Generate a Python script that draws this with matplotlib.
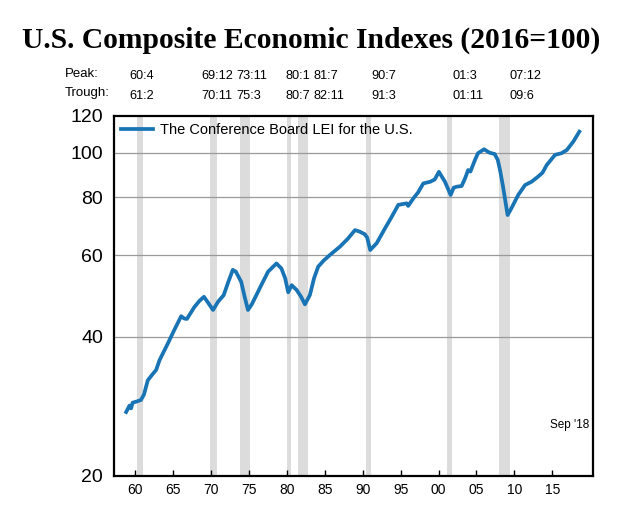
import matplotlib
matplotlib.use("Agg")
import matplotlib.pyplot as plt
from matplotlib import font_manager
from matplotlib.ticker import FixedLocator, FixedFormatter, NullLocator

# ---------------- data ----------------
years = [1958.85, 1959.3, 1959.5, 1959.7, 1960.3, 1960.8, 1961.2, 1961.7, 1962.4, 1962.8,
         1963.25, 1964.35, 1965.2, 1966.1, 1966.5, 1966.85, 1967.85, 1968.5, 1969.1, 1969.6,
         1970.3, 1970.95, 1971.7, 1972.3, 1972.9, 1973.3, 1974.0, 1974.5, 1974.9, 1975.4,
         1976.0, 1976.8, 1977.55, 1978.65, 1979.3, 1979.8, 1980.2, 1980.65, 1981.3, 1981.9,
         1982.4, 1983.05, 1983.6, 1984.15, 1984.9, 1985.7, 1987.0, 1988.0, 1989.0, 1989.6,
         1990.3, 1990.6, 1991.0, 1991.85, 1992.95, 1993.8, 1994.7, 1995.8, 1996.0, 1996.7,
         1997.3, 1998.0, 1998.9, 1999.5, 2000.05, 2000.85, 2001.6, 2002.0, 2002.4, 2003.05,
         2003.5, 2003.9, 2004.2, 2004.8, 2005.2, 2006.0, 2006.7, 2007.4, 2007.8, 2008.1,
         2008.5, 2009.1, 2009.6, 2010.5, 2011.4, 2012.25, 2013.1, 2013.7, 2014.25, 2015.35,
         2016.2, 2016.9, 2017.75, 2018.55]
lei = [27.5, 28.4, 28.0, 28.8, 29.0, 29.2, 30.0, 32.2, 33.3, 33.9,
       35.6, 38.7, 41.4, 44.3, 43.8, 43.7, 46.4, 47.8, 48.8, 47.5,
       45.7, 47.6, 49.2, 52.5, 55.8, 55.3, 52.6, 48.5, 45.7, 47.0,
       49.2, 52.3, 55.3, 57.6, 56.2, 53.5, 49.9, 51.7, 50.5, 48.8,
       47.0, 49.2, 53.5, 56.7, 58.5, 60.1, 62.6, 65.0, 68.0, 67.5,
       66.6, 65.5, 61.6, 63.7, 68.6, 72.5, 77.1, 77.7, 76.7, 79.7,
       82.0, 85.8, 86.5, 87.5, 90.9, 86.5, 81.0, 84.0, 84.4, 84.7,
       88.0, 91.7, 91.0, 96.4, 99.7, 101.7, 100.0, 99.3, 96.5, 91.7,
       84.4, 73.3, 75.8, 81.0, 85.1, 86.5, 88.7, 90.5, 94.0, 98.9,
       99.7, 101.3, 105.6, 111.0]

recession_peaks = [(1960, 4), (1969, 12), (1973, 11), (1980, 1), (1981, 7), (1990, 7), (2001, 3), (2007, 12)]
recession_troughs = [(1961, 2), (1970, 11), (1975, 3), (1980, 7), (1982, 11), (1991, 3), (2001, 11), (2009, 6)]
peak_labels = ["60:4", "69:12", "73:11", "80:1", "81:7", "90:7", "01:3", "07:12"]
trough_labels = ["61:2", "70:11", "75:3", "80:7", "82:11", "91:3", "01:11", "09:6"]

xtick_years = [1960, 1965, 1970, 1975, 1980, 1985, 1990, 1995, 2000, 2005, 2010, 2015]
xtick_labels = ["60", "65", "70", "75", "80", "85", "90", "95", "00", "05", "10", "15"]
ytick_vals = [20, 40, 60, 80, 100, 120]
ytick_labels = ["20", "40", "60", "80", "100", "120"]

title = "U.S. Composite Economic Indexes (2016=100)"
series_name = "The Conference Board LEI for the U.S."
date_note = "Sep '18"

# ---------------- style ----------------
avail = {f.name for f in font_manager.fontManager.ttflist}
narrow = "Liberation Sans Narrow" if "Liberation Sans Narrow" in avail else "Liberation Sans"
plt.rcParams['font.family'] = ['Liberation Sans', 'DejaVu Sans']

W, H = 635, 505
fig = plt.figure(figsize=(W / 100, H / 100), dpi=100)
ax = fig.add_axes([114 / W, 1 - 476 / H, (593 - 114) / W, (476 - 116) / H])

for (py, pm), (ty, tm) in zip(recession_peaks, recession_troughs):
    ax.axvspan(py + (pm - 1) / 12, ty + tm / 12 - 0.08, color="#dcdcdc", lw=0, zorder=0)

ax.set_yscale("log")
ax.set_ylim(20, 120)
ax.set_xlim(1957.25, 2020.35)

for v in [40, 60, 80, 100]:
    ax.axhline(v, color="#9a9a9a", lw=0.9, zorder=1)

ax.plot(years, lei, color="#1874b4", lw=2.7, solid_joinstyle="round", zorder=3,
        label=series_name)

ax.yaxis.set_major_locator(FixedLocator(ytick_vals))
ax.yaxis.set_major_formatter(FixedFormatter(ytick_labels))
ax.yaxis.set_minor_locator(NullLocator())
ax.tick_params(axis="y", length=0, pad=8, labelsize=14)

ax.xaxis.set_major_locator(FixedLocator(xtick_years))
ax.xaxis.set_major_formatter(FixedFormatter(xtick_labels))
ax.xaxis.set_minor_locator(NullLocator())
ax.tick_params(axis="x", direction="in", length=4, width=1, pad=5, labelsize=10)

for s in ax.spines.values():
    s.set_linewidth(1.6)
    s.set_color("black")

leg = ax.legend(loc="upper left", frameon=False, fontsize=10.5, handlelength=2.2,
                handletextpad=0.45, borderaxespad=0.1, bbox_to_anchor=(0.0, 1.0))

ax.text(0.992, 0.142, date_note, transform=ax.transAxes, ha="right", va="center", fontsize=8.5)

fig.text(0.49, 1 - 40 / H, title, ha="center", va="center", fontsize=21.3,
         fontweight="bold", family=["Liberation Serif", "DejaVu Serif"])

# peak / trough labels
label_px = [129, 201.7, 236.7, 285, 313.3, 371.7, 452.7, 510]
fig.text(65 / W, 1 - 74 / H, "Peak:", ha="left", va="center", fontsize=9.5, family=[narrow])
fig.text(65 / W, 1 - 93 / H, "Trough:", ha="left", va="center", fontsize=9.5, family=[narrow])
for px, pl, tl in zip(label_px, peak_labels, trough_labels):
    fig.text(px / W, 1 - 76 / H, pl, ha="left", va="center", fontsize=9.2, family=[narrow])
    fig.text(px / W, 1 - 96 / H, tl, ha="left", va="center", fontsize=9.2, family=[narrow])

fig.savefig("out.png", dpi=100)
